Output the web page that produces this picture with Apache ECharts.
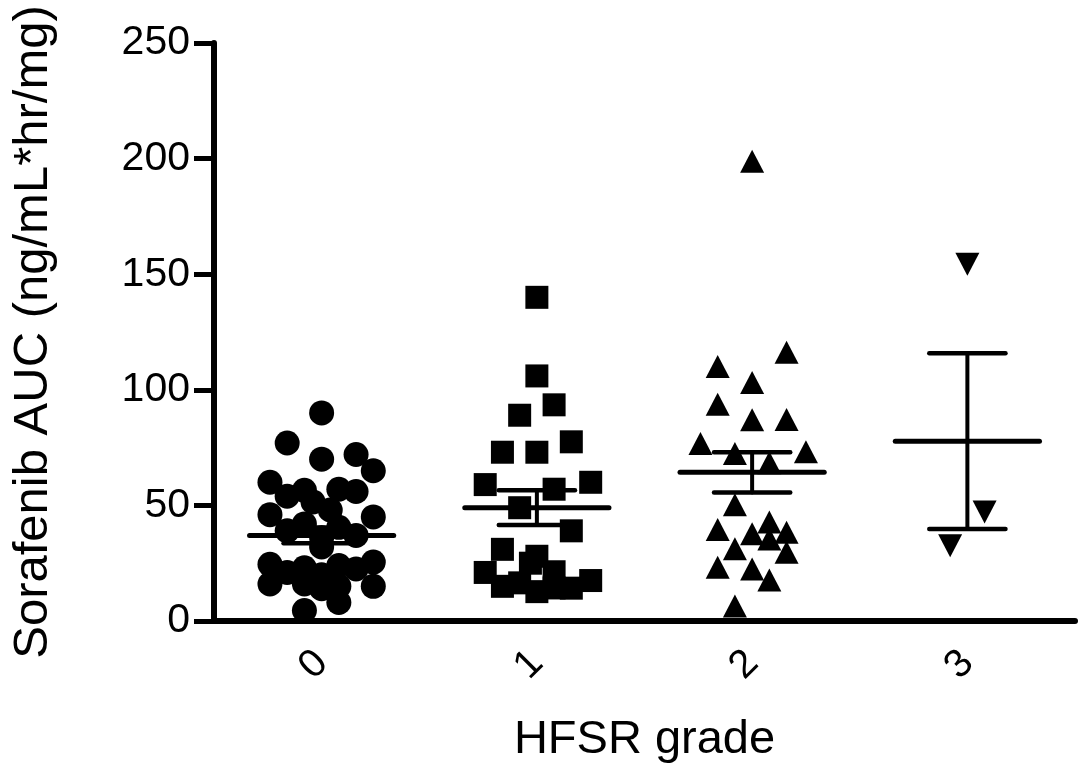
<!DOCTYPE html>
<html>
<head>
<meta charset="utf-8">
<script src="https://cdn.jsdelivr.net/npm/echarts@6/dist/echarts.min.js"></script>
<style>
  html, body { margin: 0; padding: 0; background: #fff; }
  #main { width: 1079px; height: 771px; }
</style>
</head>
<body>
<div id="main"></div>
<script>
// categories and tick labels
const grades = ['0', '1', '2', '3'];
const yTicks = [0, 50, 100, 150, 200, 250];

// per-grade values (AUC) and their column offsets within the group
const grade0Values = [90, 77, 70, 72, 65, 60, 54, 56.5, 57, 56, 51.5, 48, 46, 45, 42, 39, 40.5, 37, 36, 32,
  24.5, 21, 23, 20, 24, 22.5, 25.5, 16, 16, 15, 15, 14, 4.5, 8];
const grade0Jitter = [0, -0.16, 0, 0.16, 0.24, -0.24, -0.16, -0.08, 0.08, 0.16, -0.04, 0.04, -0.24, 0.24, -0.08, -0.16, 0.08, 0.16, 0, 0,
  -0.24, -0.16, -0.08, 0, 0.08, 0.16, 0.24, -0.24, -0.08, 0.08, 0.24, 0, -0.08, 0.08];

const grade1Values = [140, 106, 93.5, 89, 77.5, 73, 73, 59, 60, 57, 49, 39, 31, 28, 25, 21, 15, 16.5, 12.7, 21.3, 14.3, 14.2, 17.5];
const grade1Jitter = [0, 0, 0.08, -0.08, 0.16, -0.16, 0, -0.24, 0.25, 0.08, -0.08, 0.16, -0.16, 0, -0.03, -0.24, -0.16, -0.08, 0, 0.08, 0.08, 0.16, 0.25];

const grade2Values = [198.8, 116.2, 110.1, 103.2, 93.8, 87, 87.2, 76.8, 72.5, 68.4, 73.2, 50.3, 39.6, 42.8, 37.7, 38.4, 35.5, 31.2, 29.7, 23.2, 22.5, 17.7, 6.5];
const grade2Jitter = [0, 0.16, -0.16, 0, -0.16, 0, 0.16, -0.24, -0.08, 0.08, 0.25, -0.08, -0.16, 0.08, 0, 0.16, 0.08, -0.08, 0.16, -0.16, 0, 0.08, -0.08];

const grade3Values = [154.3, 47.1, 32.6];
const grade3Jitter = [0, 0.08, -0.08];

// mean and SEM per grade, as drawn
const meanValues = [37, 49, 64.3, 77.8];
const semValues = [3.4, 7.5, 8.7, 38];

const font = '"Liberation Sans", Arial, Helvetica, sans-serif';

function points(idx, values, jitter) {
  return values.map((v, i) => [idx + jitter[i], v]);
}

const chart = echarts.init(document.getElementById('main'));

const markerBase = {
  type: 'scatter',
  xAxisIndex: 1,
  itemStyle: { color: '#000', opacity: 1 },
  emphasis: { disabled: true },
  animation: false,
  z: 2
};

chart.setOption({
  backgroundColor: '#fff',
  grid: { left: 214, right: 4, top: 43, bottom: 150, containLabel: false },
  xAxis: [{
    type: 'category',
    data: grades,
    boundaryGap: true,
    name: 'HFSR grade',
    nameLocation: 'middle',
    nameGap: 96,
    nameTextStyle: { fontFamily: font, fontSize: 47, color: '#000' },
    axisLine: { onZero: false, lineStyle: { color: '#000', width: 6 } },
    axisTick: { alignWithLabel: true, length: 20, lineStyle: { color: '#000', width: 5, cap: 'round' } },
    axisLabel: { rotate: 45, margin: 36, fontFamily: font, fontSize: 40, color: '#000' },
    splitLine: { show: false }
  }, {
    type: 'value',
    min: -0.5,
    max: grades.length - 0.5,
    show: false
  }],
  yAxis: {
    type: 'value',
    min: yTicks[0],
    max: yTicks[yTicks.length - 1],
    interval: 50,
    name: 'Sorafenib AUC (ng/mL*hr/mg)',
    nameLocation: 'middle',
    nameGap: 156,
    nameRotate: 90,
    nameTextStyle: { fontFamily: font, fontSize: 49, color: '#000' },
    axisLine: { show: true, onZero: false, lineStyle: { color: '#000', width: 6 } },
    axisTick: { show: true, length: 20, lineStyle: { color: '#000', width: 5 } },
    axisLabel: { margin: 24, fontFamily: font, fontSize: 41, color: '#000' },
    splitLine: { show: false }
  },
  series: [
    Object.assign({}, markerBase, { symbol: 'circle', symbolSize: 25, data: points(0, grade0Values, grade0Jitter) }),
    Object.assign({}, markerBase, { symbol: 'rect', symbolSize: 23, data: points(1, grade1Values, grade1Jitter) }),
    Object.assign({}, markerBase, { symbol: 'triangle', symbolSize: [24, 23], data: points(2, grade2Values, grade2Jitter) }),
    Object.assign({}, markerBase, { symbol: 'triangle', symbolRotate: 180, symbolSize: [24, 23], data: points(3, grade3Values, grade3Jitter) }),
    {
      type: 'custom',
      xAxisIndex: 1,
      animation: false,
      silent: true,
      z: 3,
      data: meanValues.map((m, i) => [i, m, semValues[i]]),
      renderItem(params, api) {
        const i = api.value(0), m = api.value(1), s = api.value(2);
        const seg = (x1, y1, x2, y2, w) => {
          const a = api.coord([x1, y1]), b = api.coord([x2, y2]);
          return {
            type: 'line',
            shape: { x1: a[0], y1: a[1], x2: b[0], y2: b[1] },
            style: { stroke: '#000', lineWidth: w, lineCap: 'round' }
          };
        };
        return {
          type: 'group',
          children: [
            seg(i - 0.335, m, i + 0.335, m, 5),
            seg(i, m - s, i, m + s, 4),
            seg(i - 0.177, m + s, i + 0.177, m + s, 4.5),
            seg(i - 0.177, m - s, i + 0.177, m - s, 4.5)
          ]
        };
      }
    }
  ]
});
</script>
</body>
</html>
